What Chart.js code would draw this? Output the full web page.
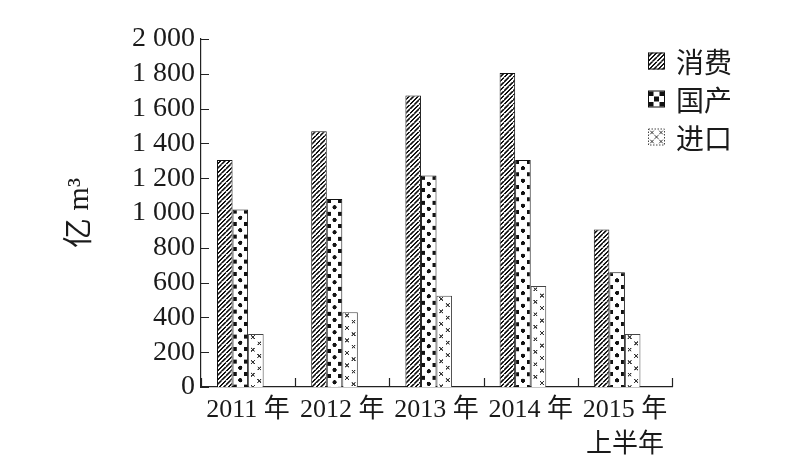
<!DOCTYPE html>
<html>
<head>
<meta charset="utf-8">
<script src="https://cdn.jsdelivr.net/npm/chart.js@4"></script>
<style>
  html, body { margin: 0; padding: 0; background: #fff; }
  #wrap { width: 789px; height: 461px; }
</style>
</head>
<body>
<div id="wrap"><canvas id="chart"></canvas></div>
<script>
// data (亿 m3)
const years = ['2011 年', '2012 年', '2013 年', '2014 年', ['2015 年', '上半年']];
const seriesNames = ['消费', '国产', '进口'];
const consumption = [1305, 1470, 1675, 1805, 905];
const production = [1020, 1080, 1215, 1305, 660];
const imports = [305, 430, 525, 580, 305];
const yTicks = [0, 200, 400, 600, 800, 1000, 1200, 1400, 1600, 1800, 2000];

const INK = '#1a1a1a';
const SERIF = "'Liberation Serif', 'Noto Sans CJK SC', serif";
const CAT_PCT = 0.66;
const SLOTS = 4; // 3 series + an empty slot, pushes the group left like the original

// pattern tiles, drawn at 4x and scaled down so fractional sizes line up
const K = 4;
function makeTile(w, h, draw) {
  const c = document.createElement('canvas');
  c.width = Math.max(1, Math.round(w * K));
  c.height = Math.max(1, Math.round(h * K));
  const g = c.getContext('2d');
  g.scale(c.width / w, c.height / h);
  g.fillStyle = '#fff';
  g.fillRect(0, 0, w, h);
  draw(g, w, h);
  return c;
}
function hatch(g, w, h) {
  g.strokeStyle = '#111';
  g.lineWidth = 1.5;
  g.beginPath();
  for (const k of [-1, 0, 1]) {
    g.moveTo(k * w, h);
    g.lineTo(k * w + w, 0);
  }
  g.stroke();
}
function dots(g, w, h) {
  g.fillStyle = '#111';
  g.fillRect(0, 0, 4, 4);
  g.fillRect(w - 4, 0, 4, 4);
  g.beginPath();
  g.arc(w / 2, 2 + h / 2, 2.1, 0, Math.PI * 2);
  g.fill();
}
function cross(g, w, h) {
  g.strokeStyle = '#333';
  g.lineWidth = 1;
  const mark = (cx, cy, r) => {
    g.moveTo(cx - r, cy - r); g.lineTo(cx + r, cy + r);
    g.moveTo(cx + r, cy - r); g.lineTo(cx - r, cy + r);
  };
  g.beginPath();
  mark(4.7, 3.2, 1.8);
  mark(w - 4.3, 3.2 + h / 2, 1.8);
  g.stroke();
}
const drawers = [hatch, dots, cross];

function patternAt(ctx, kind, w, h, tx, ty) {
  const c = makeTile(w, h, drawers[kind]);
  const p = ctx.createPattern(c, 'repeat');
  p.setTransform(new DOMMatrix().translate(tx, ty).scale(w / c.width, h / c.height));
  return p;
}

// fill of a bar, phase tied to the bar's own left/top edge
function barFill(kind) {
  return (c) => {
    const chart = c.chart;
    const xs = chart.scales.x, ys = chart.scales.y;
    if (!xs || !ys || c.raw == null || !(xs.width > 50)) return '#fff';
    const group = (xs.width / years.length) * CAT_PCT;
    const bw = group / SLOTS;
    const left = xs.getPixelForValue(c.dataIndex) - group / 2 + c.datasetIndex * bw;
    const top = ys.getPixelForValue(c.raw);
    const w = kind === 0 ? 4.5 : bw;
    const h = kind === 0 ? 4.5 : 12.5;
    return patternAt(chart.ctx, kind, w, h, left, top);
  };
}

function fmt(v) {
  return v >= 1000 ? Math.floor(v / 1000) + ' ' + String(v % 1000).padStart(3, '0') : String(v);
}

// inward tick marks on both axes
const tickMarks = {
  id: 'tickMarks',
  afterDraw(chart) {
    const ctx = chart.ctx;
    const xs = chart.scales.x, ys = chart.scales.y;
    ctx.save();
    ctx.strokeStyle = '#222';
    ctx.lineWidth = 1.2;
    ctx.beginPath();
    yTicks.forEach(v => {
      const y = Math.round(ys.getPixelForValue(v)) + 0.5;
      ctx.moveTo(ys.right, y);
      ctx.lineTo(ys.right + 8, y);
    });
    for (let i = 0; i <= years.length; i++) {
      const x = Math.round(xs.getPixelForDecimal(i / years.length)) + 0.5;
      ctx.moveTo(x, xs.top);
      ctx.lineTo(x, xs.top - 9);
    }
    ctx.stroke();
    ctx.restore();
  }
};

// legend sitting inside the top right corner of the plot
const cornerLegend = {
  id: 'cornerLegend',
  afterDraw(chart) {
    const ctx = chart.ctx;
    const area = chart.chartArea;
    const box = 17;
    const x0 = area.right - 24;
    ctx.save();
    ctx.font = "28px 'Noto Sans CJK SC'";
    ctx.textBaseline = 'middle';
    ctx.fillStyle = INK;
    seriesNames.forEach((name, i) => {
      const cy = area.top + 22 + i * 38;
      const y0 = cy - box / 2;
      ctx.fillStyle = '#fff';
      ctx.fillRect(x0, y0, box, box);
      if (i === 0) {
        ctx.fillStyle = patternAt(ctx, 0, 4.5, 4.5, x0, y0);
        ctx.fillRect(x0, y0, box, box);
      } else if (i === 1) {
        ctx.fillStyle = '#111';
        const s = 4.5;
        ctx.fillRect(x0 + 1, y0 + 1, s, s);
        ctx.fillRect(x0 + box - 1 - s, y0 + 1, s, s);
        ctx.fillRect(x0 + 1, y0 + box - 1 - s, s, s);
        ctx.fillRect(x0 + box - 1 - s, y0 + box - 1 - s, s, s);
        ctx.fillRect(x0 + box / 2 - 2.5, y0 + box / 2 - 2.5, 5, 5);
      } else {
        ctx.strokeStyle = '#333';
        ctx.lineWidth = 1;
        ctx.beginPath();
        [[4, 4], [box - 4, 4], [box / 2, box / 2], [4, box - 4], [box - 4, box - 4]].forEach(([dx, dy]) => {
          ctx.moveTo(x0 + dx - 1.8, y0 + dy - 1.8); ctx.lineTo(x0 + dx + 1.8, y0 + dy + 1.8);
          ctx.moveTo(x0 + dx + 1.8, y0 + dy - 1.8); ctx.lineTo(x0 + dx - 1.8, y0 + dy + 1.8);
        });
        ctx.stroke();
      }
      ctx.strokeStyle = i === 2 ? '#444' : '#111';
      ctx.lineWidth = 1;
      ctx.setLineDash(i === 2 ? [1.5, 1.5] : []);
      ctx.strokeRect(x0 + 0.5, y0 + 0.5, box - 1, box - 1);
      ctx.setLineDash([]);
      ctx.fillStyle = INK;
      ctx.fillText(name, x0 + box + 11, cy + 1);
    });
    ctx.restore();
  }
};

const chart = document.querySelector('#chart').getContext('2d');

new Chart(chart, {
  type: 'bar',
  data: {
    labels: years,
    datasets: [
      {
        label: seriesNames[0],
        data: consumption,
        backgroundColor: barFill(0),
        borderColor: '#111',
        borderWidth: 1
      },
      {
        label: seriesNames[1],
        data: production,
        backgroundColor: barFill(1),
        borderColor: '#111',
        borderWidth: 1
      },
      {
        label: seriesNames[2],
        data: imports,
        backgroundColor: barFill(2),
        borderColor: '#444',
        borderWidth: 1
      },
      {
        label: '',
        data: years.map(() => null),
        backgroundColor: 'rgba(0,0,0,0)'
      }
    ]
  },
  options: {
    responsive: true,
    maintainAspectRatio: false,
    animation: false,
    devicePixelRatio: 1,
    layout: { padding: { top: 39, right: 117, bottom: 0, left: 0 } },
    datasets: { bar: { categoryPercentage: CAT_PCT, barPercentage: 1 } },
    plugins: {
      legend: { display: false },
      tooltip: { enabled: false }
    },
    scales: {
      x: {
        offset: true,
        grid: { display: false, drawTicks: false },
        border: { display: true, color: '#222', width: 1.2 },
        ticks: {
          color: INK,
          font: { family: SERIF, size: 26, lineHeight: 1.35 },
          padding: 6,
          maxRotation: 0,
          autoSkip: false
        },
        afterFit: (s) => { s.height = 74; }
      },
      y: {
        min: 0,
        max: 2000,
        grid: { display: false, drawTicks: false },
        border: { display: true, color: '#222', width: 1.2 },
        afterBuildTicks: (s) => { s.ticks = yTicks.map(v => ({ value: v })); },
        ticks: {
          color: INK,
          font: { family: SERIF, size: 28 },
          padding: 6,
          autoSkip: false,
          callback: (v) => fmt(v)
        },
        title: {
          display: true,
          text: '亿 m³',
          color: INK,
          font: { family: SERIF, size: 30, lineHeight: 1.2 },
          padding: { top: 62, bottom: 0 }
        },
        afterFit: (s) => { s.width = 201; }
      }
    }
  },
  plugins: [tickMarks, cornerLegend]
});
</script>
</body>
</html>
